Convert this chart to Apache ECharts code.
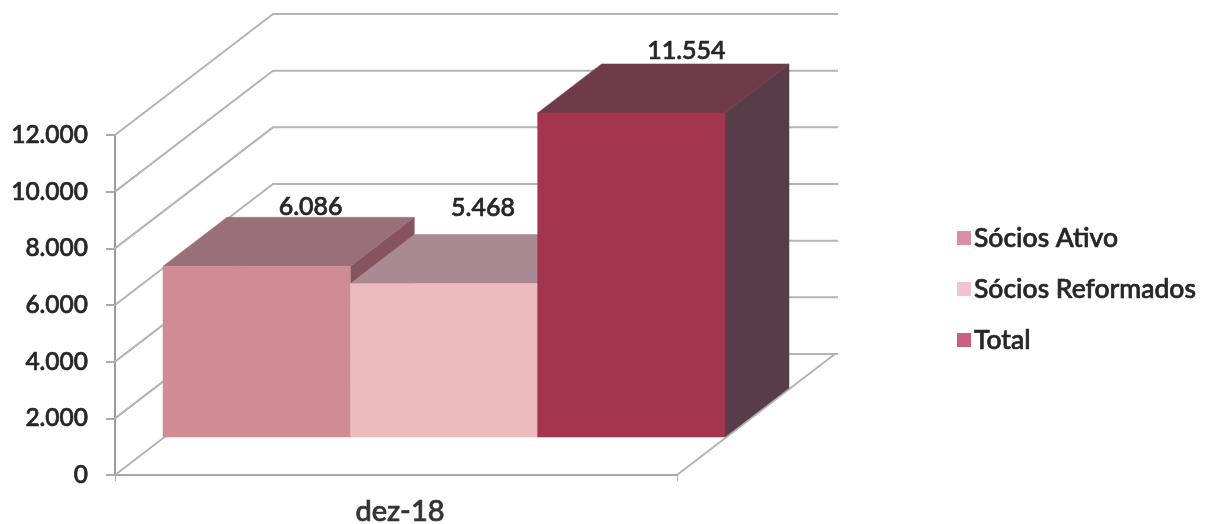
<!DOCTYPE html>
<html><head><meta charset="utf-8">
<style>html,body{margin:0;padding:0;background:#fff}#c{width:1206px;height:524px}</style>
<script src="https://cdn.jsdelivr.net/npm/echarts@6/dist/echarts.min.js"></script>
</head><body><div id="c"></div>
<script>
const categories = ['dez-18'];
const seriesNames = ['Sócios Ativo', 'Sócios Reformados', 'Total'];
const sociosAtivo = [6086];
const sociosReformados = [5468];
const total = [11554];
const yTicks = [0, 2000, 4000, 6000, 8000, 10000, 12000];

// styling / projection constants
const FONT = 'Lato, Carlito, sans-serif';
const INK = '#262626';
const WALL = [158, -121];      // front plane -> back wall
const BAR_START = [48, -38];   // front plane -> bar front face
const BAR_DEPTH = [64, -49];   // bar front face -> bar back face
const HEIGHT_SCALE = 0.99;
const faces = [
  {front:'#D08C95', top:'#99707A', side:'#85545F', legend:'#DA8FA3', lx:54, ly:-59},
  {front:'#EDBBBE', top:'#A98A92', side:'#94707A', legend:'#F3C4CE', lx:39, ly:-76},
  {front:'#A3364E', top:'#6F3A4A', side:'#573D47', legend:'#C9607F', lx:55, ly:-62}
];
const fmt = v => String(v).replace(/\B(?=(\d{3})+$)/g, '.');
const heavy = {textBorderColor:INK, textBorderWidth:0.7};

function poly(pts, fill) {
  return {type:'polygon', shape:{points:pts}, style:{fill:fill, stroke:fill, lineWidth:0.5}};
}
function barRender(i) {
  return function (params, api) {
    const band = api.size([1, 0])[0];
    const base = api.coord([api.value(0), 0]);
    const tip = api.coord([api.value(0), api.value(1)]);
    const w = band / 3;
    const x0 = base[0] - band / 2 + i * w + BAR_START[0];
    const x1 = x0 + w;
    const yB = base[1] + BAR_START[1];
    const yT = yB - (base[1] - tip[1]) * HEIGHT_SCALE;
    const dx = BAR_DEPTH[0], dy = BAR_DEPTH[1], f = faces[i];
    return {type:'group', children:[
      {type:'text', style:{text:fmt(api.value(1)), x:(x0+x1)/2+f.lx, y:yT+f.ly,
        align:'center', verticalAlign:'middle', fill:INK, stroke:INK, lineWidth:0.7,
        font:'500 25px '+FONT}},
      poly([[x1,yB],[x1+dx,yB+dy],[x1+dx,yT+dy],[x1,yT]], f.side),
      poly([[x0,yT],[x1,yT],[x1+dx,yT+dy],[x0+dx,yT+dy]], f.top),
      poly([[x0,yB],[x1,yB],[x1,yT],[x0,yT]], f.front)
    ]};
  };
}
function wallRender(params, api) {
  const v = api.value(0);
  const a = api.coord([0, v]);
  const band = api.size([1, 0])[0];
  const left = a[0] - band / 2;
  const right = a[0] + band / 2;
  const c = {type:'polyline', shape:{points:[[left,a[1]],[left+WALL[0],a[1]+WALL[1]],[right+WALL[0]+3,a[1]+WALL[1]]]},
    style:{stroke:'#B4B4B4', lineWidth:2, fill:null}};
  const kids = [c];
  if (v === 0) kids.push({type:'line', shape:{x1:right,y1:a[1],x2:right+WALL[0],y2:a[1]+WALL[1]},
    style:{stroke:'#B4B4B4', lineWidth:2}});
  return {type:'group', children:kids};
}

const chart = echarts.init(document.getElementById('c'), null, {renderer:'canvas'});
chart.setOption({
  backgroundColor:'#fff',
  animation:false,
  grid:{left:115, right:529, top:135, bottom:49, containLabel:false, outerBoundsMode:'none'},
  legend:{
    data:seriesNames, orient:'vertical', left:952, top:219, icon:'rect',
    itemWidth:14, itemHeight:14, itemGap:23,
    selectedMode:false,
    textStyle:Object.assign({fontFamily:FONT, fontSize:26.5, fontWeight:500, color:INK, lineHeight:28, padding:[0,0,0,-2]}, heavy)
  },
  xAxis:{type:'category', data:categories,
    axisLine:{lineStyle:{color:'#A8A8A8', width:2}},
    axisTick:{show:true, alignWithLabel:false, length:6, lineStyle:{color:'#B0B0B0'}},
    axisLabel:Object.assign({fontFamily:FONT, fontSize:29, fontWeight:500, color:'#333', margin:22, padding:[0,0,0,8], textBorderColor:'#333', textBorderWidth:0.7}),
    splitLine:{show:false}},
  yAxis:{type:'value', min:0, max:12000, interval:2000,
    axisLine:{show:true, lineStyle:{color:'#9A9A9A', width:2}},
    axisTick:{show:true, length:9, lineStyle:{color:'#ABABAB', width:2}},
    axisLabel:Object.assign({fontFamily:FONT, fontSize:24.5, fontWeight:500, color:INK, margin:27, formatter:fmt}, heavy),
    splitLine:{show:false}},
  series:[
    {type:'custom', silent:true, renderItem:wallRender, data:yTicks.map(v=>[v]),
     encode:{y:0}, z:1, clip:false},
    {type:'custom', name:seriesNames[0], renderItem:barRender(0), itemStyle:{color:faces[0].legend},
     data:categories.map((c,k)=>[c,sociosAtivo[k]]), encode:{x:0,y:1}, z:2, clip:false},
    {type:'custom', name:seriesNames[1], renderItem:barRender(1), itemStyle:{color:faces[1].legend},
     data:categories.map((c,k)=>[c,sociosReformados[k]]), encode:{x:0,y:1}, z:3, clip:false},
    {type:'custom', name:seriesNames[2], renderItem:barRender(2), itemStyle:{color:faces[2].legend},
     data:categories.map((c,k)=>[c,total[k]]), encode:{x:0,y:1}, z:4, clip:false}
  ]
});
</script></body></html>
